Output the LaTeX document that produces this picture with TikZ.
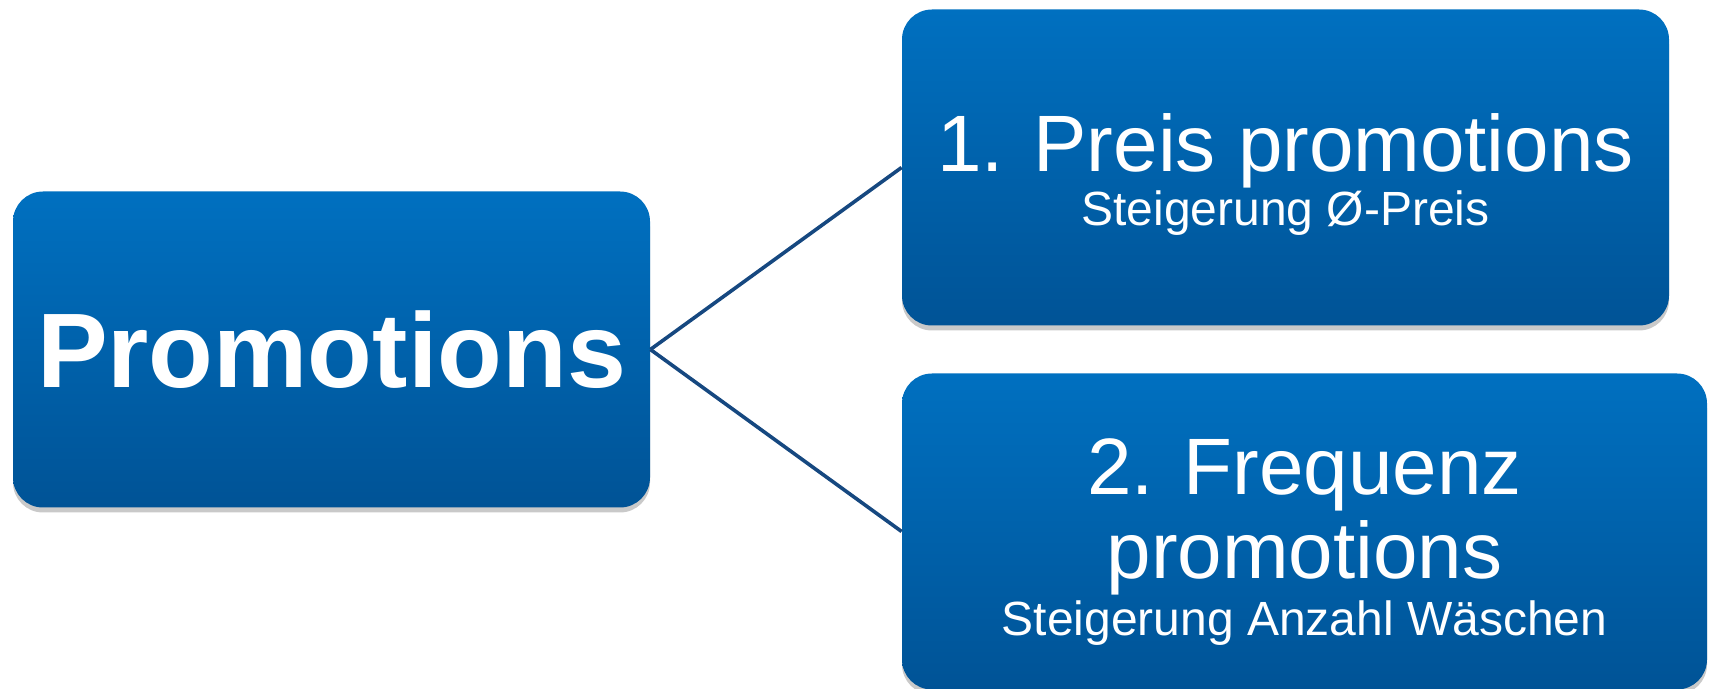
\documentclass[tikz,border=0pt]{standalone}
\usepackage{fontspec}
\setmainfont{Liberation Sans}
\usetikzlibrary{shadows}
\definecolor{boxtop}{RGB}{0,112,192}
\definecolor{boxbottom}{RGB}{0,83,150}
\definecolor{linkblue}{RGB}{22,72,128}

\begin{document}
\begin{tikzpicture}[x=0.5pt,y=-0.5pt,
  promobox/.style={rounded corners=15pt,top color=boxtop,bottom color=boxbottom,
    inner sep=0pt,minimum height=158pt,
    drop shadow={shadow xshift=0pt,shadow yshift=-2.5pt,opacity=0.3,fill=black!70}},
  boxtext/.style={text=white,align=center,inner sep=0pt,
    font=\fontsize{40}{42}\selectfont},
  subtext/.style={font=\fontsize{24}{28}\selectfont},
  link/.style={draw=linkblue,line width=1.8pt}]
  \useasboundingbox (0,0) rectangle (1714,689);
  \node[promobox,minimum width=318.5pt] (promo) at (331.5,349.5) {};
  \node[promobox,minimum width=383.5pt] (preis) at (1285.5,167.5) {};
  \node[promobox,minimum width=402.5pt] (freq) at (1304.5,531.5) {};
  \node[boxtext,font=\fontsize{53}{60}\selectfont\bfseries] (promotext) at (promo.center) {Promotions};
  \node[boxtext] (preistext) at ([yshift=-3.7pt]preis.center)
    {1. Preis promotions\\[-15pt]
     {\fontsize{24}{28}\selectfont Steigerung Ø-Preis}};
  \node[boxtext] (freqtext) at ([yshift=-5.5pt]freq.center)
    {2. Frequenz\\
     promotions\\[-13.5pt]
     {\fontsize{24}{28}\selectfont Steigerung Anzahl Wäschen}};
  \draw[link] (promo.east)--(preis.west);
  \draw[link] (promo.east)--(freq.west);
\end{tikzpicture}
\end{document}
